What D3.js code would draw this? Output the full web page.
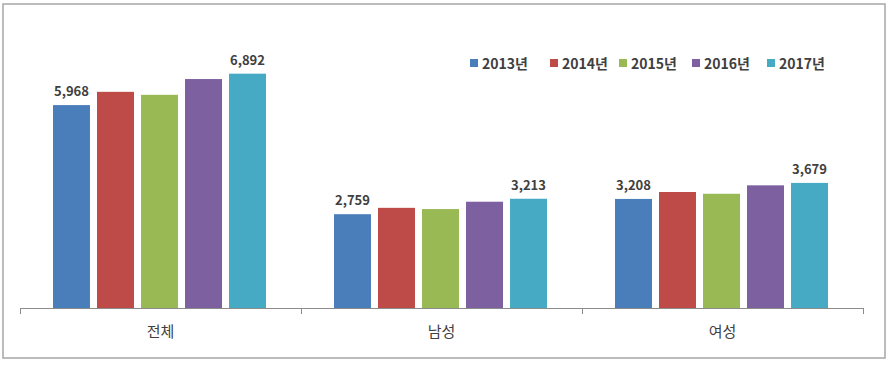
<!doctype html>
<html lang="ko">
<head>
  <meta charset="utf-8">
  <title>연도별 현황</title>
  <script src="https://d3js.org/d3.v7.min.js"></script>
  <style>
    body { margin: 0; background: #fff; }
    text { font-family: "Noto Sans CJK KR", "Noto Sans", sans-serif; fill: #404040; }
  </style>
</head>
<body>
<svg id="chart" width="889" height="365"></svg>
<script>
  var categories = ["전체", "남성", "여성"];
  var years = ["2013년", "2014년", "2015년", "2016년", "2017년"];
  var colors = ["#4a7ebb", "#be4b48", "#98b954", "#7d60a0", "#46aac5"];
  // values per year, in order of categories
  var v2013 = [5968, 2759, 3208];
  var v2014 = [6358, 2946, 3412];
  var v2015 = [6270, 2910, 3360];
  var v2016 = [6734, 3126, 3608];
  var v2017 = [6892, 3213, 3679];
  // only first and last year get a label
  var labelled = ["2013년", "2017년"];

  var series = [v2013, v2014, v2015, v2016, v2017];

  var svg = d3.select("#chart");

  // outer frame
  svg.append("rect")
     .attr("x", 3).attr("y", 4)
     .attr("width", 882).attr("height", 354)
     .attr("fill", "none")
     .attr("stroke", "#a6a6a6")
     .attr("stroke-width", 1.5);

  var x0 = d3.scaleBand().domain(categories).range([20, 863]).paddingInner(0).paddingOuter(0);
  var x1 = d3.scaleBand().domain(years).range([33, x0.bandwidth() - 35]).paddingInner(0.16).paddingOuter(0);
  var y = d3.scaleLinear().domain([0, 8000]).range([308, 36]);

  var rows = [];
  categories.forEach(function(c, i) {
    years.forEach(function(yr, j) {
      rows.push({cat: c, year: yr, value: series[j][i], color: colors[j]});
    });
  });

  svg.selectAll(".bar")
     .data(rows)
     .enter().append("rect")
     .attr("class", "bar")
     .attr("x", function(d) { return x0(d.cat) + x1(d.year); })
     .attr("y", function(d) { return y(d.value); })
     .attr("width", x1.bandwidth())
     .attr("height", function(d) { return y(0) - y(d.value); })
     .attr("fill", function(d) { return d.color; });

  svg.selectAll(".val")
     .data(rows.filter(function(d) { return labelled.indexOf(d.year) >= 0; }))
     .enter().append("text")
     .attr("class", "val")
     .attr("x", function(d) { return x0(d.cat) + x1(d.year) + x1.bandwidth() / 2; })
     .attr("y", function(d) { return y(d.value) - 9; })
     .attr("text-anchor", "middle")
     .style("font-size", "13px")
     .style("font-weight", "bold")
     .text(function(d) { return d3.format(",")(d.value); });

  // x axis with ticks between groups
  var axis = svg.append("g");
  axis.append("line")
      .attr("x1", 20).attr("x2", 863)
      .attr("y1", y(0) + 0.5).attr("y2", y(0) + 0.5)
      .attr("stroke", "#8c8c8c");
  var edges = categories.map(function(c) { return x0(c); }).concat([863]);
  axis.selectAll(".tick")
      .data(edges)
      .enter().append("line")
      .attr("x1", function(d) { return d + 0.5; })
      .attr("x2", function(d) { return d + 0.5; })
      .attr("y1", y(0)).attr("y2", y(0) + 6)
      .attr("stroke", "#8c8c8c");
  axis.selectAll(".cat")
      .data(categories)
      .enter().append("text")
      .attr("x", function(d) { return x0(d) + x0.bandwidth() / 2; })
      .attr("y", 337)
      .attr("text-anchor", "middle")
      .style("font-size", "15px")
      .text(function(d) { return d; });

  // legend
  var legX = [470, 550, 619, 692, 767];
  var leg = svg.selectAll(".leg")
     .data(years)
     .enter().append("g")
     .attr("class", "leg")
     .attr("transform", function(d, i) { return "translate(" + legX[i] + ",59)"; });
  leg.append("rect")
     .attr("width", 8).attr("height", 8)
     .attr("fill", function(d, i) { return colors[i]; });
  leg.append("text")
     .attr("x", 12).attr("y", 9.5)
     .style("font-size", "14px")
     .style("font-weight", "600")
     .text(function(d) { return d; });
</script>
</body>
</html>
